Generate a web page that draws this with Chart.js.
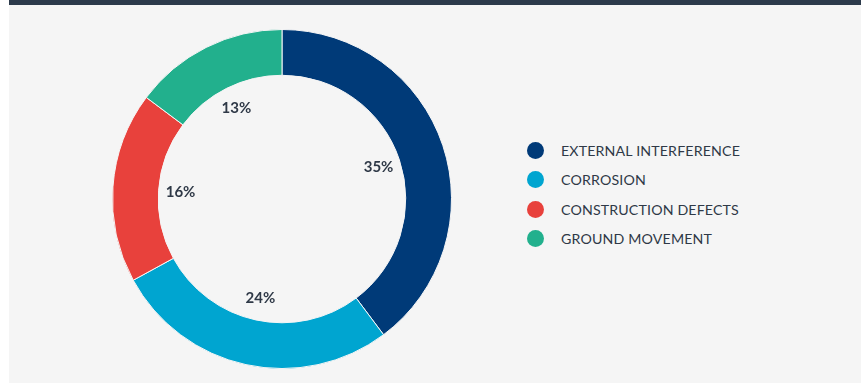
<!DOCTYPE html>
<html>
<head>
<meta charset="utf-8">
<script src="https://cdn.jsdelivr.net/npm/chart.js@4.4.1/dist/chart.umd.min.js"></script>
<style>
  html, body { margin: 0; padding: 0; background: #ffffff; }
  body { width: 861px; height: 385px; position: relative; overflow: hidden; font-family: Lato, "Open Sans", sans-serif; }
  .topbar { position: absolute; left: 9px; top: 0; width: 852px; height: 5px; background: #2c3a4b; }
  .panel { position: absolute; left: 9px; top: 5px; width: 852px; height: 378px; background: #f5f5f5; }
  .chart-box { position: absolute; left: 103px; top: 24px; width: 340px; height: 340px; }
  .legend { position: absolute; left: 518px; top: 131px; margin: 0; padding: 0; list-style: none; }
  .legend li { display: flex; align-items: center; height: 29.3px; font-size: 14.2px; color: #2f3947; letter-spacing: 0.15px; }
  .legend .dot { width: 17px; height: 17px; border-radius: 50%; margin-right: 17px; flex: none; }
</style>
</head>
<body>
<div class="topbar"></div>
<div class="panel">
  <div class="chart-box"><canvas id="failureChart"></canvas></div>
  <ul class="legend" id="legend"></ul>
</div>
<script>
const categories = ['EXTERNAL INTERFERENCE', 'CORROSION', 'CONSTRUCTION DEFECTS', 'GROUND MOVEMENT'];
const percentages = [35, 24, 16, 13];
const sliceColors = ['#003a78', '#00a5d0', '#e8413c', '#22b08d'];

// legend on the right, one row per category
const legendEl = document.getElementById('legend');
categories.forEach((name, i) => {
    const li = document.createElement('li');
    li.innerHTML = '<span class="dot" style="background:' + sliceColors[i] + '"></span>' + name;
    legendEl.appendChild(li);
});

// writes each share just inside the hole, at the middle of its arc
const innerLabels = {
    id: 'innerLabels',
    afterDatasetsDraw(chart) {
        const ctx = chart.ctx;
        const meta = chart.getDatasetMeta(0);
        ctx.save();
        ctx.font = 'bold 15px Lato, "Open Sans", sans-serif';
        ctx.fillStyle = '#2f3947';
        ctx.textAlign = 'center';
        ctx.textBaseline = 'middle';
        meta.data.forEach((arc, i) => {
            const p = arc.getProps(['x', 'y', 'startAngle', 'endAngle', 'innerRadius'], true);
            const mid = (p.startAngle + p.endAngle) / 2;
            const r = p.innerRadius - 22;
            ctx.fillText(percentages[i] + '%', p.x + Math.cos(mid) * r, p.y + Math.sin(mid) * r);
        });
        ctx.restore();
    }
};

const ctx = document.getElementById('failureChart');
new Chart(ctx, {
    type: 'doughnut',
    data: {
        labels: categories,
        datasets: [{
            data: percentages,
            backgroundColor: sliceColors,
            borderColor: '#f5f5f5',
            borderWidth: 1
        }]
    },
    options: {
        responsive: true,
        maintainAspectRatio: false,
        animation: false,
        cutout: '73%',
        layout: { padding: 0 },
        plugins: {
            legend: { display: false },
            tooltip: { enabled: false }
        }
    },
    plugins: [innerLabels]
});
</script>
</body>
</html>
